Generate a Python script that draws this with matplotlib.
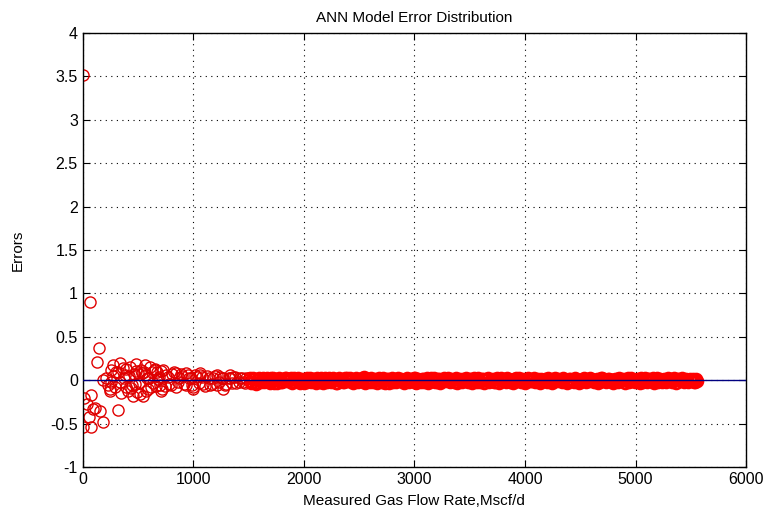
import matplotlib
matplotlib.use('Agg')
import matplotlib.pyplot as plt

plt.rcParams['font.family'] = ['Liberation Sans', 'DejaVu Sans']

# scattered points at low flow rates
x_low = [5, 63, 147, 130, 184, 15, 79, 40, 95, 60, 5, 79, 184, 320, 109, 154,
         244, 258, 274, 335, 486, 561, 455, 545, 712, 395, 652, 724, 848, 938,
         998, 1270, 1058, 1210, 1330]
e_low = [3.52, 0.90, 0.37, 0.21, 0.00, -0.20, -0.17, -0.27, -0.33, -0.42, -0.54, -0.54, -0.48, -0.34, -0.32, -0.36,
         -0.13, -0.02, 0.17, 0.20, 0.19, 0.17, -0.18, -0.18, -0.13, -0.08, 0.13, 0.12, 0.08, 0.08,
         -0.10, -0.10, 0.08, 0.06, 0.06]

# transition region
x_mid = [210, 230, 260, 290, 300, 340, 360, 380, 410, 430, 470, 500, 520, 550, 580, 620, 650, 680, 700,
         420, 450, 480, 510, 540, 570, 600, 630, 660, 690, 720, 750, 780, 810, 840, 870, 900, 930,
         960, 990, 1020, 1050, 1080, 1110, 1140, 1170, 1200, 1230, 1260, 1290, 1320, 1350, 1380, 1410,
         1440, 1470, 1500,
         250, 275, 320, 350, 370, 395, 440, 460, 490, 530, 560, 590, 610, 640, 670, 710, 740, 770, 800, 830,
         860, 890, 920, 950, 980, 1000, 1030, 1060, 1090, 1120, 1150, 1180, 1210, 1240, 1270, 1300, 1330,
         1360, 1390, 1420, 1450, 1480]
e_mid = [0.02, -0.05, 0.12, -0.08, 0.10, -0.02, 0.14, 0.06, -0.12, 0.15, -0.04, 0.08, -0.16, 0.10, 0.03, -0.08, 0.12, 0.01, -0.05,
         0.05, -0.06, 0.11, -0.03, 0.08, -0.12, 0.02, 0.09, -0.07, 0.04, -0.10, 0.06, -0.04, 0.07, -0.08, 0.03, 0.05, -0.06,
         0.02, -0.05, 0.06, -0.03, 0.04, -0.07, 0.03, -0.04, 0.05, -0.02, 0.03, -0.05, 0.02, -0.03, 0.04, -0.02,
         0.03, -0.03, 0.02,
         -0.10, 0.05, 0.09, -0.15, 0.02, 0.13, -0.09, 0.07, -0.14, 0.12, 0.06, -0.10, 0.15, -0.03, 0.09, 0.11, -0.07, 0.04, -0.06, 0.09,
         -0.02, 0.07, -0.04, 0.06, 0.03, -0.08, 0.04, 0.06, -0.04, 0.05, -0.06, 0.03, -0.05, 0.04, 0.02, -0.04, 0.03,
         0.04, -0.03, 0.02, -0.02, 0.03]

# dense band at higher rates
x_band = [1510, 1532, 1551, 1578, 1596, 1620, 1641, 1663, 1689, 1705,
          1728, 1750, 1772, 1791, 1818, 1836, 1859, 1880, 1903, 1925,
          1948, 1969, 1990, 2014, 2033, 2057, 2079, 2101, 2120, 2146,
          2165, 2188, 2209, 2231, 2254, 2276, 2297, 2320, 2342, 2363,
          2387, 2408, 2430, 2452, 2475, 2496, 2519, 2540, 2563, 2585,
          2606, 2629, 2650, 2672, 2695, 2717, 2738, 2761, 2783, 2804,
          2827, 2849, 2871, 2892, 2915, 2937, 2958, 2981, 3003, 3024,
          3047, 3069, 3090, 3113, 3135, 3156, 3179, 3201, 3222, 3245,
          3267, 3288, 3311, 3333, 3354, 3377, 3399, 3420, 3443, 3465,
          3486, 3509, 3531, 3552, 3575, 3597, 3618, 3641, 3663, 3684,
          3707, 3729, 3750, 3773, 3795, 3816, 3839, 3861, 3882, 3905,
          3927, 3948, 3971, 3993, 4014, 4037, 4059, 4080, 4103, 4125,
          4146, 4169, 4191, 4212, 4235, 4257, 4278, 4301, 4323, 4344,
          4367, 4389, 4410, 4433, 4455, 4476, 4499, 4521, 4542, 4565,
          4587, 4608, 4631, 4653, 4674, 4697, 4719, 4740, 4763, 4785,
          4806, 4829, 4851, 4872, 4895, 4917, 4938, 4961, 4983, 5004,
          5027, 5049, 5070, 5093, 5115, 5136, 5159, 5181, 5202, 5225,
          5247, 5268, 5291, 5313, 5334, 5357, 5379, 5400, 5423, 5445,
          5466, 5489, 5511, 5532, 5548,
          1521, 1542, 1565, 1587, 1608, 1631, 1652, 1676, 1697, 1717,
          1739, 1761, 1781, 1805, 1827, 1848, 1870, 1892, 1914, 1937,
          1958, 1980, 2002, 2024, 2045, 2068, 2090, 2110, 2133, 2156,
          2177, 2198, 2220, 2243, 2265, 2287, 2309, 2331, 2352, 2375,
          2397, 2419, 2441, 2463, 2486, 2508, 2530, 2552, 2574, 2596,
          2618, 2640, 2661, 2684, 2706, 2727, 2750, 2772, 2794, 2816,
          2838, 2860, 2882, 2904, 2926, 2948, 2970, 2992, 3014, 3036,
          3058, 3080, 3102, 3124, 3146, 3168, 3190, 3212, 3234, 3256,
          3278, 3300, 3322, 3344, 3366, 3388, 3410, 3432, 3454, 3476,
          3498, 3520, 3542, 3564, 3586, 3608, 3630, 3652, 3674, 3696,
          3718, 3740, 3762, 3784, 3806, 3828, 3850, 3872, 3894, 3916,
          3938, 3960, 3982, 4004, 4026, 4048, 4070, 4092, 4114, 4136,
          4158, 4180, 4202, 4224, 4246, 4268, 4290, 4312, 4334, 4356,
          4378, 4400, 4422, 4444, 4466, 4488, 4510, 4532, 4554, 4576,
          4598, 4620, 4642, 4664, 4686, 4708, 4730, 4752, 4774, 4796,
          4818, 4840, 4862, 4884, 4906, 4928, 4950, 4972, 4994, 5016,
          5038, 5060, 5082, 5104, 5126, 5148, 5170, 5192, 5214, 5236,
          5258, 5280, 5302, 5324, 5346, 5368, 5390, 5412, 5434, 5456,
          5478, 5500, 5521, 5540, 5555]
e_band = [0.03, -0.02, 0.01, -0.03, 0.02, 0.00, -0.02, 0.03, -0.01, 0.02,
          -0.03, 0.01, 0.02, -0.02, 0.00, 0.03, -0.01, 0.02, -0.02, 0.01,
          0.02, -0.03, 0.00, 0.01, -0.02, 0.03, 0.01, -0.01, 0.02, -0.02,
          0.00, 0.02, -0.02, 0.03, -0.01, 0.01, -0.03, 0.02, 0.00, -0.02,
          0.03, -0.01, 0.01, -0.02, 0.02, 0.00, -0.01, 0.04, -0.02, 0.01,
          0.02, -0.02, 0.00, 0.01, -0.01, 0.02, -0.03, 0.01, 0.00, -0.02,
          0.01, 0.02, -0.01, 0.00, -0.02, 0.02, 0.01, -0.01, 0.02, -0.02,
          0.00, 0.01, -0.02, 0.02, -0.01, 0.00, 0.02, -0.02, 0.01, -0.01,
          0.02, 0.00, -0.01, 0.01, -0.02, 0.02, 0.00, -0.01, 0.01, 0.02,
          -0.02, 0.01, 0.00, -0.01, 0.02, -0.02, 0.01, 0.00, 0.02, -0.01,
          0.01, -0.02, 0.02, 0.00, -0.01, 0.01, 0.02, -0.02, 0.00, 0.01,
          -0.01, 0.02, 0.00, -0.02, 0.01, 0.01, -0.01, 0.02, 0.00, -0.02,
          0.01, 0.00, -0.01, 0.02, -0.02, 0.01, 0.00, 0.01, -0.01, 0.02,
          -0.02, 0.00, 0.01, -0.01, 0.02, 0.00, -0.02, 0.01, 0.01, -0.01,
          0.02, 0.00, -0.01, 0.01, -0.02, 0.02, 0.00, -0.01, 0.01, 0.00,
          -0.02, 0.01, 0.02, -0.01, 0.00, 0.01, -0.02, 0.02, 0.00, -0.01,
          0.01, 0.02, -0.02, 0.00, 0.01, -0.01, 0.02, 0.00, -0.02, 0.01,
          0.00, -0.01, 0.02, 0.01, -0.02, 0.00, 0.01, -0.01, 0.02, 0.00,
          -0.01, 0.01, 0.00, -0.02, 0.01,
          -0.03, 0.02, -0.04, 0.01, -0.02, 0.03, -0.01, 0.00, -0.03, 0.02,
          0.00, -0.03, 0.01, -0.02, 0.03, -0.01, 0.00, -0.03, 0.02, -0.01,
          -0.02, 0.01, -0.03, 0.02, 0.00, -0.02, 0.01, -0.03, 0.00, 0.02,
          -0.03, 0.00, 0.01, -0.02, 0.02, -0.03, 0.01, -0.01, -0.02, 0.02,
          -0.01, 0.02, -0.03, 0.00, -0.02, 0.01, 0.02, -0.03, 0.01, -0.02,
          -0.01, 0.01, -0.03, 0.02, -0.02, 0.00, 0.01, -0.03, 0.02, -0.01,
          -0.02, 0.00, 0.01, -0.03, 0.01, -0.02, 0.00, 0.02, -0.03, 0.01,
          -0.02, 0.01, 0.00, -0.03, 0.02, -0.01, -0.02, 0.01, -0.03, 0.00,
          -0.01, 0.02, -0.02, 0.00, 0.01, -0.03, 0.01, -0.02, 0.00, -0.01,
          0.01, -0.03, 0.02, -0.02, 0.00, 0.01, -0.03, 0.01, -0.02, 0.00,
          -0.02, 0.01, -0.03, 0.02, 0.00, -0.02, 0.01, -0.01, -0.03, 0.02,
          0.00, -0.02, 0.01, -0.03, 0.02, -0.01, 0.00, -0.02, 0.01, -0.03,
          0.00, 0.01, -0.02, 0.00, -0.03, 0.02, -0.01, 0.00, -0.02, 0.01,
          -0.03, 0.01, 0.00, -0.02, 0.01, -0.03, 0.00, 0.02, -0.02, -0.01,
          0.01, -0.02, 0.00, -0.03, 0.02, -0.01, -0.02, 0.01, 0.00, -0.03,
          0.01, -0.02, 0.00, 0.01, -0.03, 0.02, -0.01, 0.00, -0.02, 0.01,
          -0.03, 0.00, 0.02, -0.02, 0.01, -0.01, -0.03, 0.02, 0.00, -0.02,
          0.01, -0.02, 0.00, -0.01, 0.02, -0.03, 0.01, 0.00, -0.02, 0.01,
          -0.02, 0.00, 0.01, -0.02, -0.01]

x_ticks = [0, 1000, 2000, 3000, 4000, 5000, 6000]
y_ticks = [-1, -0.5, 0, 0.5, 1, 1.5, 2, 2.5, 3, 3.5, 4]
y_ticklabels = ['-1', '-0.5', '0', '0.5', '1', '1.5', '2', '2.5', '3', '3.5', '4']

fig = plt.figure(figsize=(7.66, 5.16), dpi=100)
ax = fig.add_axes([0.108, 0.095, 0.866, 0.841])

ax.axhline(0, color='#000080', linewidth=1.0, zorder=3)
ax.plot(x_low, e_low, 'o', markerfacecolor='none', markeredgecolor='#e00000',
        markersize=8, markeredgewidth=1.0, zorder=2)
ax.plot(x_mid, e_mid, 'o', markerfacecolor='none', markeredgecolor='#e00000',
        markersize=8, markeredgewidth=1.0, zorder=2)
ax.plot(x_band, e_band, 'o', markerfacecolor='none', markeredgecolor='red',
        markersize=8, markeredgewidth=1.8, zorder=2)

ax.set_xlim(0, 6000)
ax.set_ylim(-1, 4)
ax.set_xticks(x_ticks)
ax.set_yticks(y_ticks)
ax.set_yticklabels(y_ticklabels)
ax.tick_params(direction='in', top=True, right=True, labelsize=11.5, length=5)
ax.grid(True, linestyle=(0, (1, 4)), color='black', linewidth=0.8)
for s in ax.spines.values():
    s.set_linewidth(1.0)

ax.set_title('ANN Model Error Distribution', fontsize=11, pad=8)
ax.set_xlabel('Measured Gas Flow Rate,Mscf/d', fontsize=11, labelpad=5)
ax.set_ylabel('Errors', fontsize=11, labelpad=18)

fig.savefig('out.png', dpi=100)
